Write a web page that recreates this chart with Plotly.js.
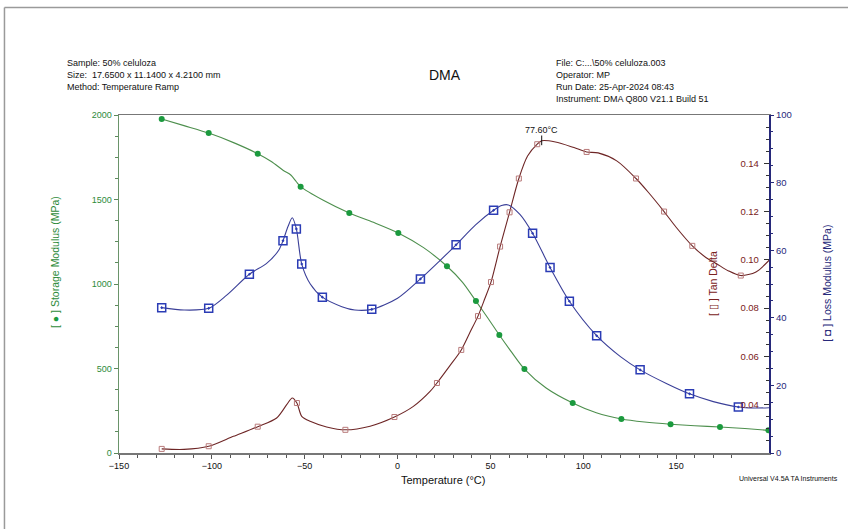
<!DOCTYPE html>
<html>
<head>
<meta charset="utf-8">
<script src="https://cdn.plot.ly/plotly-3.0.1.min.js"></script>
<style>html,body{margin:0;padding:0;background:#fff;}#chart{width:848px;height:529px;}</style>
</head>
<body>
<div id="chart"></div>
<script>
// ---- Storage modulus (MPa) ----
const storageCurveT = [-127, -115, -101.7, -88, -75.3, -68, -61.5, -57.5, -54.5, -52.2, -40, -26, -13, 0.4, 14, 26.6, 35, 42.2, 48.5, 54.8, 61.5, 68.3, 80, 94.3, 107, 120.5, 133, 147, 160, 173.6, 187, 199.7];
const storageCurveE = [1976, 1937, 1893, 1835, 1771, 1725, 1672, 1645, 1605, 1576, 1495, 1420, 1365, 1302, 1215, 1105, 1010, 899, 800, 698, 595, 497, 385, 296, 238, 201, 183, 170, 161, 154, 145, 134];
const storageMarkT = [-127, -101.7, -75.3, -52.2, -26, 0.4, 26.6, 42.2, 54.8, 68.3, 94.3, 120.5, 147, 173.6, 199.7];
const storageMarkE = [1976, 1893, 1771, 1576, 1420, 1302, 1105, 899, 698, 497, 296, 201, 170, 154, 134];

// ---- Loss modulus (MPa) ----
const lossCurveT = [-127, -115, -101.7, -92, -79.8, -70.5, -64, -61.7, -59, -56.7, -54.5, -51.6, -47, -40.5, -30, -23, -13.9, 0, 12.3, 22, 31.5, 42, 51.7, 56, 59.6, 66, 72.7, 82.1, 92.5, 107.2, 120, 130.6, 145, 157.2, 170, 183.5, 192, 200.5];
const lossCurveL = [43.0, 42.3, 42.8, 46.7, 52.9, 56.1, 60.0, 62.8, 67.0, 69.6, 66.3, 55.9, 50.0, 46.1, 43.3, 42.3, 42.5, 45.8, 51.5, 56.5, 61.6, 67.5, 71.8, 73.2, 73.4, 70.5, 65.0, 54.9, 44.9, 34.7, 28.5, 24.6, 20.5, 17.5, 15.2, 13.6, 13.3, 13.4];
const lossMarkT = [-127, -101.7, -79.8, -61.7, -54.5, -51.6, -40.5, -13.9, 12.3, 31.5, 51.7, 72.7, 82.1, 92.5, 107.2, 130.6, 157.2, 183.5];
const lossMarkL = [43.0, 42.8, 52.9, 62.8, 66.3, 55.9, 46.1, 42.5, 51.5, 61.6, 71.8, 65.0, 54.9, 44.9, 34.7, 24.6, 17.5, 13.6];

// ---- Tan delta ----
const tanCurveT = [-127, -115, -101.7, -88.4, -75.3, -65.1, -59.7, -56.7, -54.2, -51.6, -47.1, -38.2, -28.1, -14.8, -1.7, 8.5, 17.5, 21.2, 28, 34.3, 39, 43.3, 47, 50.3, 55.2, 60.3, 65.3, 70, 75.2, 77.6, 85, 95, 101.8, 108, 118, 128.4, 135, 143.5, 150, 158.7, 166, 171.8, 178, 184.8, 193, 200.5];
const tanCurveD = [0.0217, 0.0215, 0.0228, 0.0269, 0.0309, 0.0345, 0.0400, 0.0428, 0.0407, 0.0352, 0.0331, 0.0308, 0.0296, 0.0311, 0.0349, 0.0393, 0.0455, 0.0490, 0.0560, 0.0627, 0.0700, 0.0767, 0.0840, 0.0908, 0.1055, 0.1197, 0.1337, 0.1430, 0.1479, 0.1493, 0.1488, 0.1465, 0.1447, 0.1443, 0.1410, 0.1337, 0.1280, 0.1200, 0.1135, 0.1058, 0.1010, 0.0984, 0.0955, 0.0935, 0.0950, 0.1002];
const tanMarkT = [-127, -101.7, -75.3, -54.2, -28.1, -1.7, 21.2, 34.3, 43.3, 50.3, 55.2, 60.3, 65.3, 75.2, 101.8, 128.4, 143.5, 158.7, 184.8];
const tanMarkD = [0.0217, 0.0228, 0.0309, 0.0407, 0.0296, 0.0349, 0.0490, 0.0627, 0.0767, 0.0908, 0.1055, 0.1197, 0.1337, 0.1479, 0.1447, 0.1337, 0.1200, 0.1058, 0.0935];

const peakT = 77.6;
const peakD = 0.1493;
const peakLabel = "77.60°C";

const xTicks = [-150, -100, -50, 0, 50, 100, 150, 200];
const tanTicks = [0.04, 0.06, 0.08, 0.10, 0.12, 0.14];

const headerLeft = ["Sample: 50% celuloza", "Size:  17.6500 x 11.1400 x 4.2100 mm", "Method: Temperature Ramp"];
const headerRight = ["File: C:...\\50% celuloza.003", "Operator: MP", "Run Date: 25-Apr-2024 08:43", "Instrument: DMA Q800 V21.1 Build 51"];

const FONT = "Liberation Sans, Arial, sans-serif";
const GREEN = "#2e8b3a", GREEN_LINE = "#4d8f4d", GREEN_MK = "#1b9a3e";
const NAVY = "#27297a", NAVY_LINE = "#3a3f98", NAVY_MK = "#2b3cb5";
const RED = "#7a2121", RED_LINE = "#6e2626", RED_MK = "#b87a7a";

const traces = [
  {x: storageCurveT, y: storageCurveE, mode: "lines", line: {color: GREEN_LINE, width: 1.1, shape: "spline", smoothing: 0.8}, yaxis: "y", hoverinfo: "skip"},
  {x: storageMarkT, y: storageMarkE, mode: "markers", marker: {symbol: "circle", size: 6, color: GREEN_MK}, yaxis: "y"},
  {x: lossCurveT, y: lossCurveL, mode: "lines", line: {color: NAVY_LINE, width: 1.1, shape: "spline", smoothing: 0.8}, yaxis: "y3", hoverinfo: "skip"},
  {x: lossMarkT, y: lossMarkL, mode: "markers", marker: {symbol: "square-open-dot", size: 8, color: NAVY_MK, line: {width: 1.5, color: NAVY_MK}}, yaxis: "y3"},
  {x: tanCurveT, y: tanCurveD, mode: "lines", line: {color: RED_LINE, width: 1.1, shape: "spline", smoothing: 0.8}, yaxis: "y2", hoverinfo: "skip"},
  {x: tanMarkT, y: tanMarkD, mode: "markers", marker: {symbol: "square-open", size: 5, color: RED_MK, line: {width: 1, color: RED_MK}}, yaxis: "y2"}
];

const ann = [];
headerLeft.forEach((t, i) => ann.push({text: t, xref: "paper", yref: "paper", x: -0.0831, y: 1.1538 - i * 0.0355, xanchor: "left", yanchor: "middle", showarrow: false, font: {family: FONT, size: 9, color: "#111"}}));
headerRight.forEach((t, i) => ann.push({text: t, xref: "paper", yref: "paper", x: 0.6692, y: 1.1538 - i * 0.0355, xanchor: "left", yanchor: "middle", showarrow: false, font: {family: FONT, size: 9, color: "#111"}}));
ann.push({text: "DMA", xref: "paper", yref: "paper", x: 0.5015, y: 1.118, xanchor: "center", yanchor: "middle", showarrow: false, font: {family: FONT, size: 14, color: "#111"}});
ann.push({text: "Temperature (°C)", xref: "paper", yref: "paper", x: 0.4985, y: -0.080, xanchor: "center", yanchor: "middle", showarrow: false, font: {family: FONT, size: 11, color: "#111"}});
ann.push({text: "Universal V4.5A TA Instruments", xref: "paper", yref: "paper", x: 1.109, y: -0.074, xanchor: "right", yanchor: "middle", showarrow: false, font: {family: FONT, size: 7, color: "#111"}});
ann.push({text: "[ <span style='color:" + GREEN_MK + "'>●</span> ] Storage Modulus (MPa)", xref: "paper", yref: "paper", x: -0.0985, y: 0.565, textangle: -90, xanchor: "center", yanchor: "middle", showarrow: false, font: {family: FONT, size: 10.5, color: GREEN}});
ann.push({text: "[ ▯ ] Tan Delta", xref: "paper", yref: "paper", x: 0.9138, y: 0.503, textangle: -90, xanchor: "center", yanchor: "middle", showarrow: false, font: {family: FONT, size: 10.5, color: RED}});
ann.push({text: "[ <b>◘</b> ] Loss Modulus (MPa)", xref: "paper", yref: "paper", x: 1.089, y: 0.503, textangle: -90, xanchor: "center", yanchor: "middle", showarrow: false, font: {family: FONT, size: 10.5, color: NAVY}});
ann.push({text: peakLabel, xref: "x", yref: "y2", x: peakT, y: peakD, yshift: 11, xanchor: "center", yanchor: "middle", showarrow: false, font: {family: FONT, size: 9, color: "#111"}});

const shapes = [
  {type: "line", xref: "x", yref: "y2", x0: peakT, x1: peakT, y0: peakD - 0.0018, y1: peakD + 0.0022, line: {color: "#111", width: 1}},
  {type: "line", xref: "paper", yref: "paper", x0: -0.1762, x1: -0.1762, y0: -0.3, y1: 1.318, line: {color: "#9a9a9a", width: 1.5}},
  {type: "line", xref: "paper", yref: "paper", x0: -0.1762, x1: 1.3, y0: 1.318, y1: 1.318, line: {color: "#9a9a9a", width: 1.5}}
];

const layout = {
  width: 848, height: 529,
  margin: {l: 119, r: 79, t: 115, b: 76},
  paper_bgcolor: "#fff", plot_bgcolor: "#fff",
  showlegend: false,
  font: {family: FONT, size: 9, color: "#111"},
  xaxis: {range: [-150, 200], tickvals: xTicks, ticks: "outside", ticklen: 4, tickcolor: "#555",
    showline: true, linecolor: "#777", linewidth: 1.5, mirror: true, showgrid: false, zeroline: false,
    tickfont: {family: FONT, size: 9, color: "#111"},
    minor: {dtick: 10, tick0: 0, ticks: "outside", ticklen: 3, tickcolor: "#555", showgrid: false}},
  yaxis: {range: [0, 2000], dtick: 500, ticks: "outside", ticklen: 4, tickcolor: "#5c8a5c",
    showline: true, linecolor: "#6a946a", linewidth: 1.5, showgrid: false, zeroline: false,
    tickfont: {family: FONT, size: 9, color: GREEN},
    minor: {dtick: 125, tick0: 0, ticks: "outside", ticklen: 3, tickcolor: "#5c8a5c", showgrid: false}},
  yaxis2: {range: [0.02, 0.16], overlaying: "y", side: "right", anchor: "x", tickvals: tanTicks, tickformat: ".2f",
    ticks: "inside", ticklen: 5, tickcolor: "#333", ticklabelposition: "inside", ticklabelstandoff: 4,
    showline: true, linecolor: NAVY, linewidth: 1.5, showgrid: false, zeroline: false,
    tickfont: {family: FONT, size: 9.5, color: RED},
    minor: {dtick: 0.005, tick0: 0, ticks: "inside", ticklen: 3, tickcolor: "#333", showgrid: false}},
  yaxis3: {range: [0, 100], overlaying: "y", side: "right", anchor: "x", dtick: 20,
    ticks: "outside", ticklen: 4, tickcolor: NAVY,
    showline: false, showgrid: false, zeroline: false,
    tickfont: {family: FONT, size: 9.5, color: NAVY},
    minor: {dtick: 5, tick0: 0, ticks: "outside", ticklen: 3, tickcolor: NAVY, showgrid: false}},
  annotations: ann,
  shapes: shapes
};

Plotly.newPlot("chart", traces, layout, {displayModeBar: false, staticPlot: true});
</script>
</body>
</html>
